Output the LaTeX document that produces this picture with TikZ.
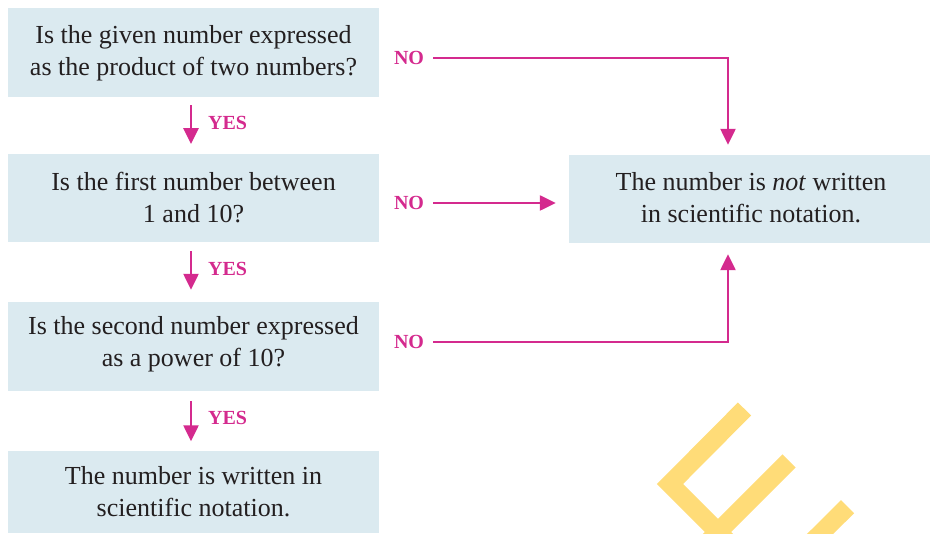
\documentclass[tikz,border=0pt]{standalone}
\usepackage{fontspec}
\setmainfont{Liberation Serif}
\usetikzlibrary{arrows.meta,calc}
\definecolor{boxfill}{RGB}{219,234,240}
\definecolor{mag}{RGB}{212,42,142}
\definecolor{ylw}{RGB}{255,220,120}
\definecolor{txt}{RGB}{35,31,32}
\newcommand{\twolines}[2]{\begin{tabular}[b]{@{}c@{}}#1\\#2\end{tabular}}
\begin{document}
\begin{tikzpicture}[x=1pt,y=-1pt,
  box/.style={fill=boxfill, minimum width=371pt, inner sep=0pt},
  btext/.style={inner sep=0pt, font=\fontsize{26}{32}\selectfont, text=txt, anchor=base},
  lbl/.style={text=mag, font=\bfseries\fontsize{20}{20}\selectfont, inner sep=0pt},
  arr/.style={draw=mag, line width=2.4pt, -{Triangle[width=15pt,length=16pt]}},
  wm/.style={draw=ylw, line width=18.5pt}
]
\useasboundingbox (0,0) rectangle (930,534);
\begin{scope}
  \clip (0,0) rectangle (930,534);
  \draw[wm, line join=miter] (744.5,409) -- (670,484) -- (740,554);
  \draw[wm] (789,461) -- (700,550);
  \draw[wm] (847.5,506.7) -- (800,554);
\end{scope}

\node[box, minimum height=89pt] (b1) at (193.5,52.5) {};
\node[box, minimum height=88pt] (b2) at (193.5,198.3) {};
\node[box, minimum height=89pt] (b3) at (193.5,346.5) {};
\node[box, minimum height=82pt] (b4) at (193.5,492.5) {};
\node[box, minimum width=361pt, minimum height=88pt] (r) at (749.5,199) {};

\node[btext] (t1) at (193.5,76) {\twolines{Is the given number expressed}{as the product of two numbers?}};
\node[btext] (t2) at (193.5,223) {\twolines{Is the first number between}{1 and 10?}};
\node[btext] (t3) at (193.5,366.7) {\twolines{Is the second number expressed}{as a power of 10?}};
\node[btext] (t4) at (193.5,516.7) {\twolines{The number is written in}{scientific notation.}};
\node[btext] (tr) at (751,222.7) {\twolines{The number is \textit{not} written}{in scientific notation.}};

\node[lbl] (no1) at (409,58) {NO};
\node[lbl] (no2) at (409,203) {NO};
\node[lbl] (no3) at (409,342) {NO};

\draw[arr, shorten <=8pt, shorten >=10pt] ([xshift=-2.5pt]b1.south) -- node[lbl, right, xshift=16pt, yshift=3pt]{YES} ([xshift=-2.5pt]b2.north);
\draw[arr, shorten <=9pt, shorten >=12pt] ([xshift=-2.5pt]b2.south) -- node[lbl, right, xshift=16pt, yshift=3pt]{YES} ([xshift=-2.5pt]b3.north);
\draw[arr, shorten <=10pt, shorten >=10pt] ([xshift=-2.5pt]b3.south) -- node[lbl, right, xshift=16pt, yshift=3pt]{YES} ([xshift=-2.5pt]b4.north);

\draw[arr, shorten <=9pt, shorten >=10pt] (no1.east) -| ([xshift=-21.5pt]r.north);
\draw[arr, shorten <=9pt, shorten >=13pt] (no2.east) -- (r.west |- no2.east);
\draw[arr, shorten <=9pt, shorten >=11pt] (no3.east) -| ([xshift=-21.5pt]r.south);
\end{tikzpicture}
\end{document}
